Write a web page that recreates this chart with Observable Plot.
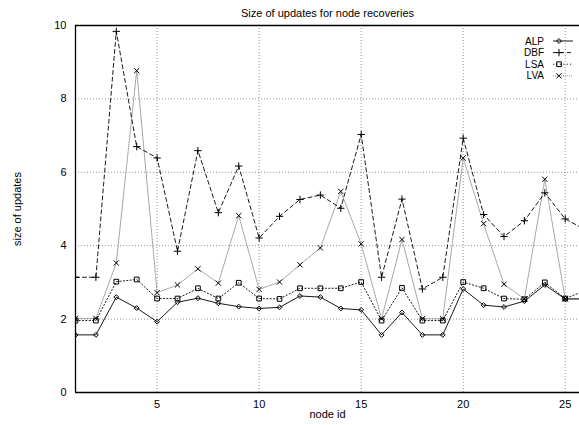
<!DOCTYPE html>
<html>
<head>
<meta charset="utf-8">
<script src="https://cdn.jsdelivr.net/npm/d3@7"></script>
<script src="https://cdn.jsdelivr.net/npm/@observablehq/plot@0.6"></script>
<style>
  html, body { margin: 0; padding: 0; background: #fff; }
  #wrap { position: relative; width: 579px; height: 425px; overflow: hidden; }
  #legend { position: absolute; left: 0; top: 0; }
  svg { font-family: "Liberation Sans", Arial, sans-serif; }
</style>
</head>
<body>
<div id="wrap"></div>
<script>
const title = "Size of updates for node recoveries";
const xLabel = "node id";
const yLabel = "size of updates";
const nodeIds = [1,2,3,4,5,6,7,8,9,10,11,12,13,14,15,16,17,18,19,20,21,22,23,24,25,26];
const ALP = [1.57,1.57,2.60,2.30,1.93,2.46,2.57,2.43,2.34,2.29,2.32,2.63,2.60,2.29,2.25,1.57,2.18,1.57,1.57,2.82,2.38,2.33,2.49,2.93,2.55,2.55];
const DBF = [3.14,3.14,9.84,6.70,6.39,3.85,6.59,4.90,6.17,4.21,4.80,5.26,5.38,5.02,7.03,3.14,5.27,2.82,3.14,6.93,4.85,4.25,4.68,5.44,4.73,4.43];
const LSA = [1.96,1.96,3.02,3.08,2.56,2.56,2.84,2.56,2.99,2.56,2.55,2.84,2.84,2.84,3.01,1.96,2.85,1.96,1.96,3.01,2.84,2.56,2.54,3.00,2.56,2.78];
const LVA = [2.02,2.02,3.53,8.77,2.72,2.93,3.37,2.98,4.82,2.81,3.01,3.48,3.94,5.48,4.05,2.01,4.17,2.01,2.01,6.39,4.60,2.95,2.55,5.81,2.55,2.55];
const seriesNames = ["ALP","DBF","LSA","LVA"];
const xTicks = [5,10,15,20,25];
const yTicks = [0,2,4,6,8,10];
const yGrid = [2,4,6,8];

const values = {ALP, DBF, LSA, LVA};
const styles = {
  ALP: {stroke: "#000", dash: null, symbol: "diamond2", r: 2.2, width: 0.9},
  DBF: {stroke: "#000", dash: "4,3", symbol: "plus", r: 2.5, width: 0.9},
  LSA: {stroke: "#000", dash: "1.2,2.2", symbol: "square2", r: 3.0, width: 0.9},
  LVA: {stroke: "#8f8f8f", dash: "1,1", symbol: "times", r: 2.5, width: 0.9}
};

const rows = s => nodeIds.map((id, i) => ({id, v: values[s][i]}));

const marks = [
  Plot.ruleY(yGrid, {stroke: "#888", strokeDasharray: "1,2", strokeWidth: 0.9}),
  Plot.ruleX(xTicks, {stroke: "#888", strokeDasharray: "1,2", strokeWidth: 0.9}),
];
for (const s of ["LVA","LSA","DBF","ALP"]) {
  const st = styles[s];
  marks.push(Plot.line(rows(s), {x: "id", y: "v", stroke: st.stroke, strokeWidth: st.width, strokeDasharray: st.dash, clip: true}));
}
for (const s of ["LVA","LSA","DBF","ALP"]) {
  const st = styles[s];
  marks.push(Plot.dot(rows(s), {x: "id", y: "v", symbol: () => st.symbol, r: st.r, stroke: "#000", strokeWidth: 1, fill: "none", clip: true}));
}
marks.push(
  Plot.ruleY([0, 10], {stroke: "#000", strokeWidth: 1.3}),
  Plot.ruleX([1], {stroke: "#000", strokeWidth: 1.3}),
  Plot.axisX(xTicks, {tickSize: 0, tickPadding: 8, fontSize: 11, fill: "#000", label: null}),
  Plot.axisY(yTicks, {tickSize: 0, tickPadding: 9, fontSize: 11, fill: "#000", label: null}),
  Plot.text([title], {frameAnchor: "top", dy: -12, lineAnchor: "middle", textAnchor: "middle", fontSize: 11, fill: "#000"}),
  Plot.text([xLabel], {frameAnchor: "bottom", dy: 22, lineAnchor: "middle", textAnchor: "middle", fontSize: 11, fill: "#000"}),
  Plot.text([yLabel], {frameAnchor: "left", dx: -58, rotate: -90, lineAnchor: "middle", textAnchor: "middle", fontSize: 11, fill: "#000"})
);

const chart = Plot.plot({
  width: 579,
  height: 425,
  marginLeft: 75,
  marginRight: 0,
  marginTop: 25,
  marginBottom: 33,
  x: {domain: [1, 25.7]},
  y: {domain: [0, 10]},
  symbol: {type: "identity"},
  style: {fontFamily: "'Liberation Sans', Arial, sans-serif", fontSize: "11px", background: "#fff", color: "#000"},
  marks
});
document.getElementById("wrap").appendChild(chart);

// legend overlay (gnuplot style key, top right inside the frame)
const ns = "http://www.w3.org/2000/svg";
const leg = document.createElementNS(ns, "svg");
leg.setAttribute("id", "legend");
leg.setAttribute("width", 579);
leg.setAttribute("height", 425);
leg.style.pointerEvents = "none";
const symMap = {diamond2: d3.symbolDiamond2, plus: d3.symbolPlus, square2: d3.symbolSquare2, times: d3.symbolTimes};
seriesNames.forEach((s, i) => {
  const st = styles[s];
  const cy = 41 + i * 11.6;
  const t = document.createElementNS(ns, "text");
  t.setAttribute("x", 544); t.setAttribute("y", cy); t.setAttribute("dy", "0.36em");
  t.setAttribute("text-anchor", "end"); t.setAttribute("font-size", 10);
  t.setAttribute("font-family", "'Liberation Sans', Arial, sans-serif");
  t.textContent = s;
  leg.appendChild(t);
  const l = document.createElementNS(ns, "line");
  l.setAttribute("x1", 553); l.setAttribute("x2", 573); l.setAttribute("y1", cy); l.setAttribute("y2", cy);
  l.setAttribute("stroke", st.stroke);
  l.setAttribute("stroke-width", 0.9);
  if (st.dash) l.setAttribute("stroke-dasharray", st.dash);
  leg.appendChild(l);
  const p = document.createElementNS(ns, "path");
  p.setAttribute("d", d3.symbol(symMap[st.symbol], st.r * st.r * Math.PI)());
  p.setAttribute("transform", `translate(559,${cy})`);
  p.setAttribute("fill", "none"); p.setAttribute("stroke", "#000");
  leg.appendChild(p);
});
document.getElementById("wrap").appendChild(leg);
</script>
</body>
</html>
